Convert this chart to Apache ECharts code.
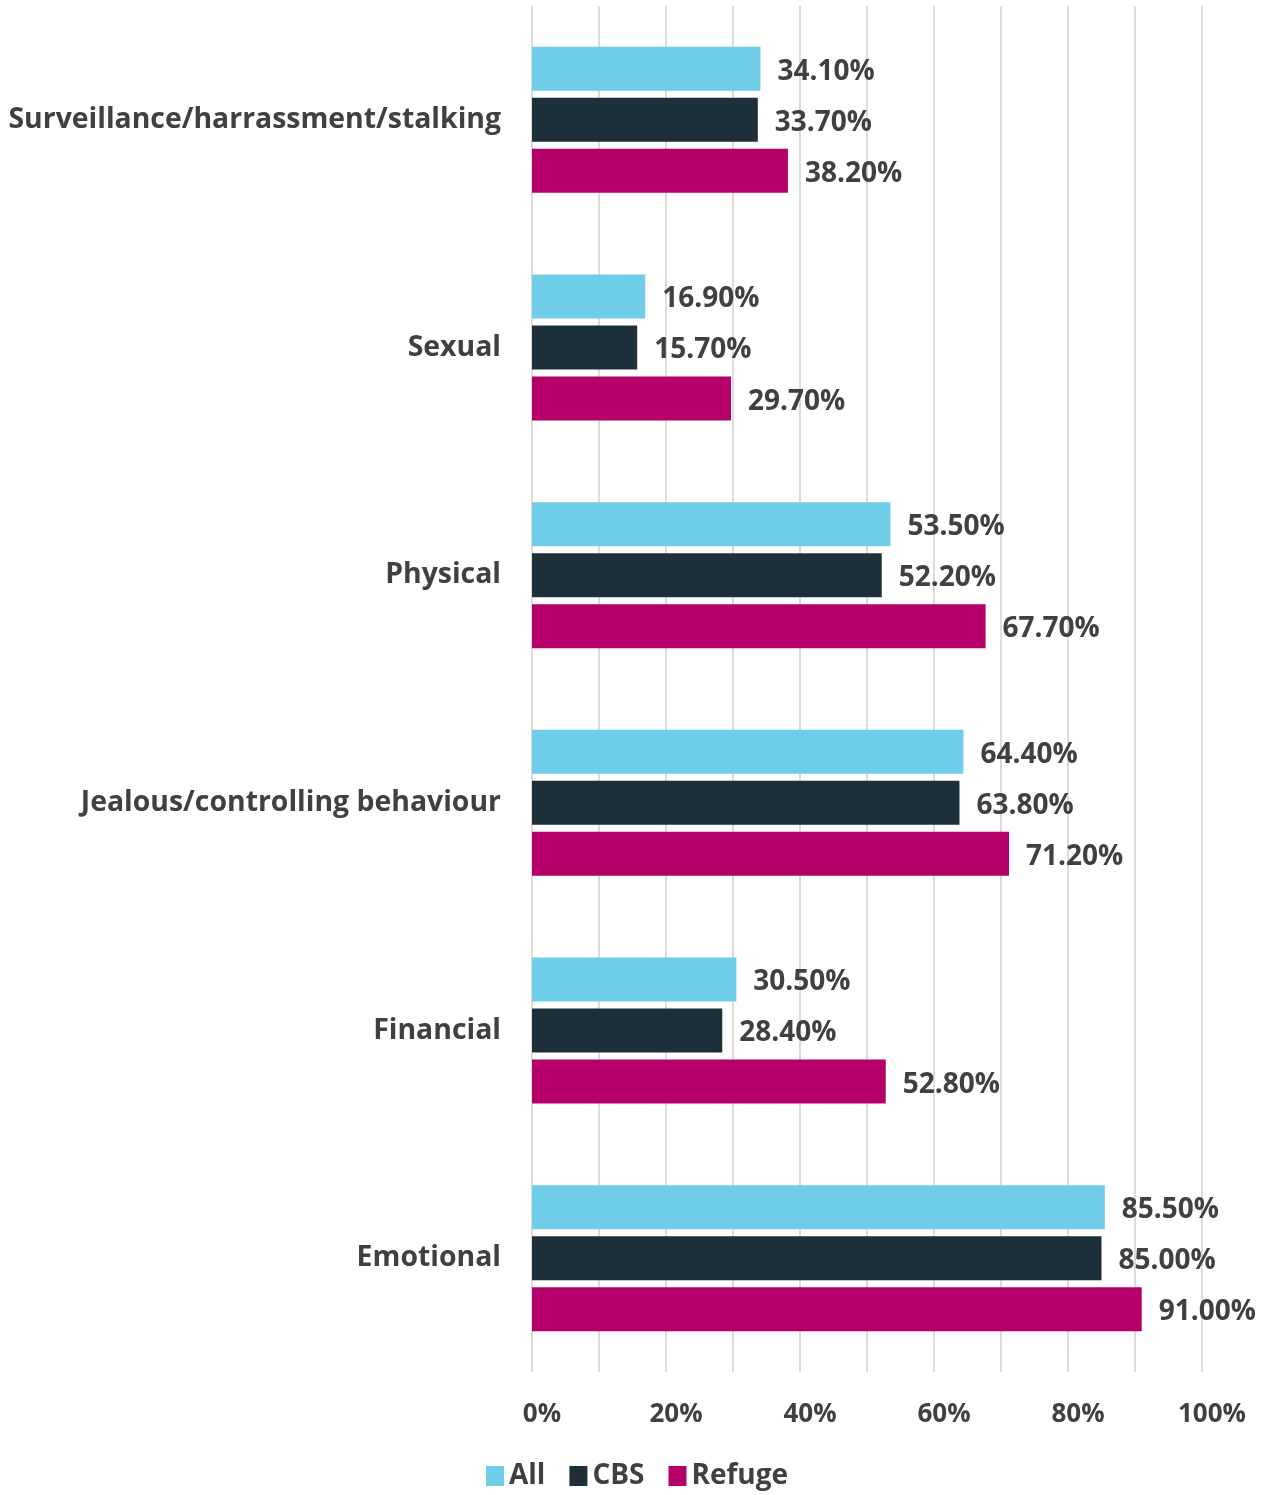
<!DOCTYPE html>
<html>
<head>
<meta charset="utf-8">
<script src="https://cdn.jsdelivr.net/npm/echarts@6/dist/echarts.min.js"></script>
<style>
  html, body { margin: 0; padding: 0; background: #fff; }
  #chart { width: 1269px; height: 1495px; }
</style>
</head>
<body>
<div id="chart"></div>
<script>
// categories top to bottom
const categories = [
  "Surveillance/harrassment/stalking",
  "Sexual",
  "Physical",
  "Jealous/controlling behaviour",
  "Financial",
  "Emotional",
];
const allValues = [34.1, 16.9, 53.5, 64.4, 30.5, 85.5];
const cbsValues = [33.7, 15.7, 52.2, 63.8, 28.4, 85.0];
const refugeValues = [38.2, 29.7, 67.7, 71.2, 52.8, 91.0];
const seriesNames = ["All", "CBS", "Refuge"];
const seriesColors = ["#70cde8", "#1d2f38", "#b5006a"];

const chart = echarts.init(document.getElementById("chart"));
const font = "'Open Sans', sans-serif";
const textColor = "#404040";

function barSeries(name, data, color) {
  return {
    name: name,
    type: "bar",
    data: data,
    barWidth: 44,
    barGap: "16%",
    itemStyle: { color: color },
    label: {
      show: true,
      position: "right",
      distance: 17,
      offset: [0, 3],
      color: textColor,
      fontFamily: font,
      fontWeight: "bold",
      fontSize: 28,
      formatter: (p) => p.value.toFixed(2) + "%",
    },
  };
}

const option = {
  animation: false,
  grid: { left: 532, right: 67, top: 6, bottom: 123 },
  legend: {
    bottom: 0,
    left: 481,
    itemWidth: 18,
    itemHeight: 20,
    itemGap: 24,
    icon: "rect",
    textStyle: {
      color: textColor,
      fontFamily: font,
      fontWeight: "bold",
      fontSize: 28,
      padding: [4, 0, 0, 0],
    },
    data: seriesNames,
  },
  xAxis: {
    type: "value",
    min: 0,
    max: 100,
    interval: 10,
    axisLine: { show: false },
    axisTick: { show: false },
    splitLine: { lineStyle: { color: "#dcdcdc", width: 2 } },
    axisLabel: {
      interval: 1,
      margin: 30,
      padding: [0, 0, 0, 20],
      color: textColor,
      fontFamily: font,
      fontWeight: "bold",
      fontSize: 26,
      formatter: (v) => (v % 20 === 0 ? v + "%" : ""),
    },
  },
  yAxis: {
    type: "category",
    inverse: true,
    data: categories,
    axisLine: { show: false },
    axisTick: { show: false },
    axisLabel: {
      margin: 31,
      padding: [4, 0, 0, 0],
      color: textColor,
      fontFamily: font,
      fontWeight: "bold",
      fontSize: 28.4,
    },
  },
  series: [
    barSeries(seriesNames[0], allValues, seriesColors[0]),
    barSeries(seriesNames[1], cbsValues, seriesColors[1]),
    barSeries(seriesNames[2], refugeValues, seriesColors[2]),
  ],
};
chart.setOption(option);
</script>
</body>
</html>
